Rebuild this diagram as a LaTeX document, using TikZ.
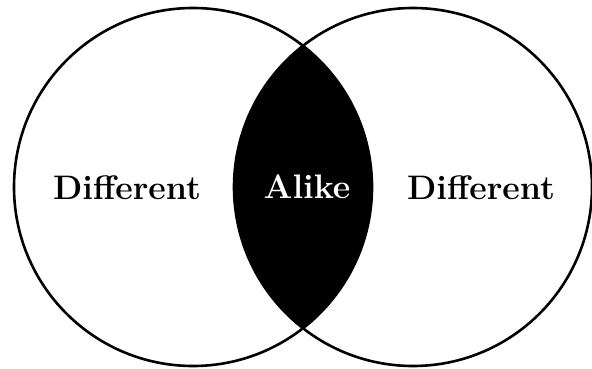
\documentclass[tikz,border=0pt]{standalone}
\usetikzlibrary{positioning}
\tikzset{
  setc/.style={circle,draw=black,line width=2.6pt,minimum size=358pt,inner sep=0pt},
  lab/.style={font=\fontsize{34}{34}\selectfont\bfseries,anchor=base,inner sep=0pt},
  every picture/.style={x=1pt,y=1pt}
}
\begin{document}
\begin{tikzpicture}
  \useasboundingbox (0,0) rectangle (592,368);
  % overlap of the two sets
  \begin{scope}
    \clip (193,181) circle (179);
    \fill[black] (413,181) circle (179);
  \end{scope}
  \node[setc] (lset) at (193,181) {};
  \node[setc] (rset) at (413,181) {};
  \node[lab] (ldiff) at (127,169) {Different};
  \node[lab,white] (alike) at (307,170) {Alike};
  \node[lab] (rdiff) at (481,169) {Different};
\end{tikzpicture}
\end{document}
